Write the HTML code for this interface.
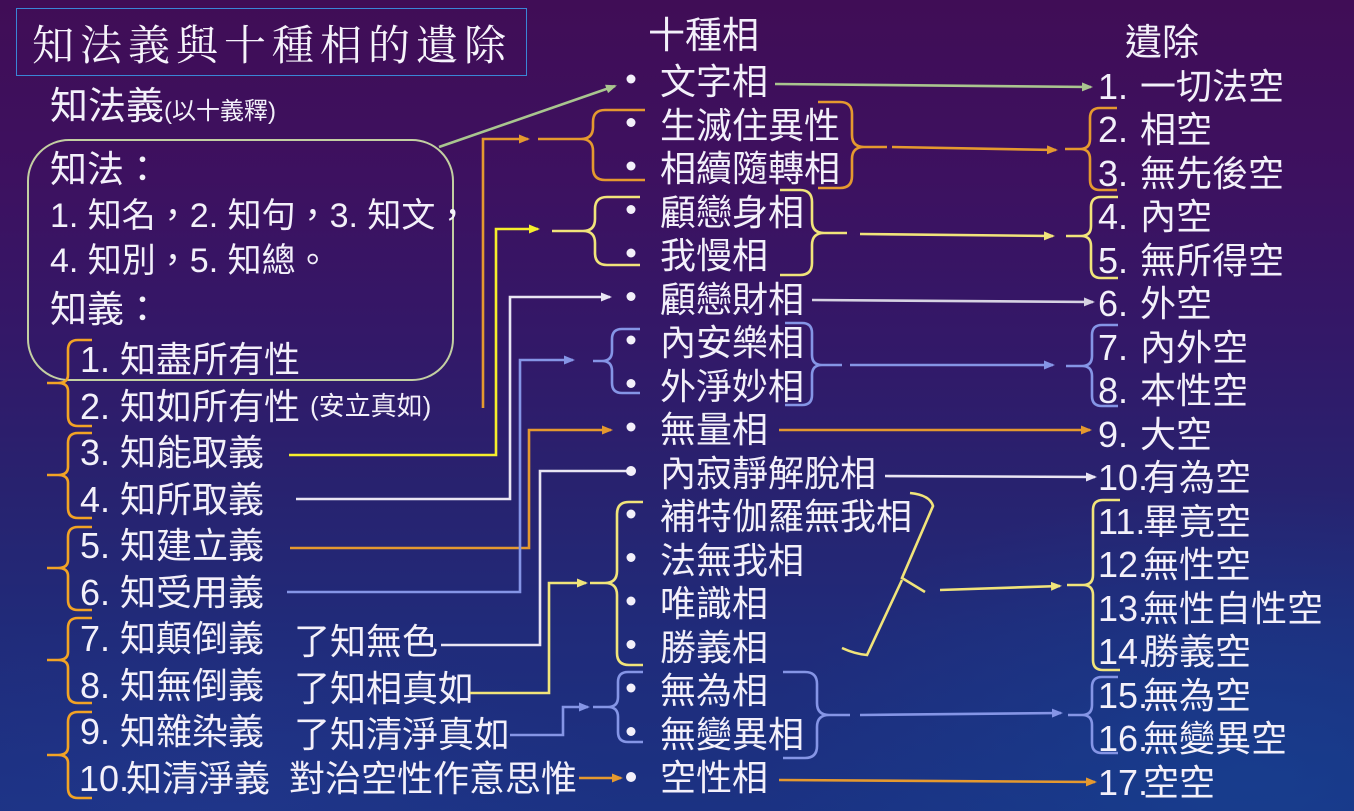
<!DOCTYPE html>
<html><head><meta charset="utf-8">
<style>
html,body{margin:0;padding:0;}
body{width:1354px;height:811px;overflow:hidden;}
#c{position:relative;width:1354px;height:811px;overflow:hidden;
 background:linear-gradient(180deg,#400d56 0%,#3d1160 22%,#331868 42%,#28226f 60%,#202b7a 78%,#1b3283 100%);}
#glow{position:absolute;left:0;top:0;width:1354px;height:811px;
 background:radial-gradient(ellipse 700px 420px at 1250px 780px,rgba(20,70,150,0.55),rgba(20,70,150,0) 70%),
 radial-gradient(ellipse 600px 300px at 200px 820px,rgba(40,60,150,0.35),rgba(40,60,150,0) 70%);}
.t{position:absolute;white-space:nowrap;line-height:1;color:#f3f0fa;
 font-family:"Liberation Sans","Noto Sans CJK TC","Noto Sans CJK SC",sans-serif;font-size:36px;}
#title{position:absolute;left:16px;top:8px;width:511px;height:68px;border:1.5px solid #3a86d6;box-sizing:border-box;}
#tt{position:absolute;left:32px;top:26px;font-family:"Liberation Serif","Noto Serif CJK SC",serif;font-size:42px;letter-spacing:6px;line-height:1;color:#f6f3fb;white-space:nowrap;}
#box{position:absolute;left:27px;top:139px;width:427px;height:242px;border:2.5px solid #c3cfa2;border-radius:42px;box-sizing:border-box;}
svg{position:absolute;left:0;top:0;}
</style></head><body><div id="c">
<div id="glow"></div>
<div id="title"></div>
<div id="tt">知法義與十種相的遺除</div>
<div id="box"></div>

<div class="t" style="left:50px;top:88px;font-size:38px;">知法義<span style="font-size:24px;">(以十義釋)</span></div>
<div class="t" style="left:50px;top:151px;font-size:37px;">知法：</div>
<div class="t" style="left:50px;top:199px;font-size:34px;">1. 知名，2. 知句，3. 知文，</div>
<div class="t" style="left:50px;top:244px;font-size:34px;">4. 知別，5. 知總。</div>
<div class="t" style="left:50px;top:291px;font-size:37px;">知義：</div>

<!-- left list -->
<div class="t" style="left:80px;top:342px;">1.</div><div class="t" style="left:120px;top:342px;">知盡所有性</div>
<div class="t" style="left:80px;top:388.5px;">2.</div><div class="t" style="left:120px;top:388.5px;">知如所有性</div>
<div class="t" style="left:310px;top:393px;font-size:26px;">(安立真如)</div>
<div class="t" style="left:80px;top:435px;">3.</div><div class="t" style="left:120px;top:435px;">知能取義</div>
<div class="t" style="left:80px;top:481.5px;">4.</div><div class="t" style="left:120px;top:481.5px;">知所取義</div>
<div class="t" style="left:80px;top:528px;">5.</div><div class="t" style="left:120px;top:528px;">知建立義</div>
<div class="t" style="left:80px;top:574.5px;">6.</div><div class="t" style="left:120px;top:574.5px;">知受用義</div>
<div class="t" style="left:80px;top:621px;">7.</div><div class="t" style="left:120px;top:621px;">知顛倒義</div>
<div class="t" style="left:294px;top:624px;">了知無色</div>
<div class="t" style="left:80px;top:667.5px;">8.</div><div class="t" style="left:120px;top:667.5px;">知無倒義</div>
<div class="t" style="left:294px;top:670.5px;">了知相真如</div>
<div class="t" style="left:80px;top:714px;">9.</div><div class="t" style="left:120px;top:714px;">知雜染義</div>
<div class="t" style="left:294px;top:717px;">了知清淨真如</div>
<div class="t" style="left:79px;top:760.5px;">10.</div><div class="t" style="left:126px;top:760.5px;">知清淨義</div>
<div class="t" style="left:289px;top:760.5px;">對治空性作意思惟</div>

<!-- middle -->
<div class="t" style="left:648px;top:17px;font-size:37px;">十種相</div>
<div class="t" style="left:660px;top:64px;">文字相</div>
<div class="t" style="left:660px;top:107.5px;">生滅住異性</div>
<div class="t" style="left:660px;top:151px;">相續隨轉相</div>
<div class="t" style="left:660px;top:194.5px;">顧戀身相</div>
<div class="t" style="left:660px;top:238px;">我慢相</div>
<div class="t" style="left:660px;top:281.5px;">顧戀財相</div>
<div class="t" style="left:660px;top:325px;">內安樂相</div>
<div class="t" style="left:660px;top:368.5px;">外淨妙相</div>
<div class="t" style="left:660px;top:412px;">無量相</div>
<div class="t" style="left:660px;top:455.5px;">內寂靜解脫相</div>
<div class="t" style="left:660px;top:499px;">補特伽羅無我相</div>
<div class="t" style="left:660px;top:542.5px;">法無我相</div>
<div class="t" style="left:660px;top:586px;">唯識相</div>
<div class="t" style="left:660px;top:629.5px;">勝義相</div>
<div class="t" style="left:660px;top:673px;">無為相</div>
<div class="t" style="left:660px;top:716.5px;">無變異相</div>
<div class="t" style="left:660px;top:760px;">空性相</div>

<!-- right -->
<div class="t" style="left:1125px;top:24px;font-size:37px;">遺除</div>
<div class="t" style="left:1098px;top:68.5px;">1.</div><div class="t" style="left:1140px;top:68.5px;">一切法空</div>
<div class="t" style="left:1098px;top:112px;">2.</div><div class="t" style="left:1140px;top:112px;">相空</div>
<div class="t" style="left:1098px;top:155.5px;">3.</div><div class="t" style="left:1140px;top:155.5px;">無先後空</div>
<div class="t" style="left:1098px;top:199px;">4.</div><div class="t" style="left:1140px;top:199px;">內空</div>
<div class="t" style="left:1098px;top:242.5px;">5.</div><div class="t" style="left:1140px;top:242.5px;">無所得空</div>
<div class="t" style="left:1098px;top:286px;">6.</div><div class="t" style="left:1140px;top:286px;">外空</div>
<div class="t" style="left:1098px;top:329.5px;">7.</div><div class="t" style="left:1140px;top:329.5px;">內外空</div>
<div class="t" style="left:1098px;top:373px;">8.</div><div class="t" style="left:1140px;top:373px;">本性空</div>
<div class="t" style="left:1098px;top:416.5px;">9.</div><div class="t" style="left:1140px;top:416.5px;">大空</div>
<div class="t" style="left:1098px;top:460px;">10.</div><div class="t" style="left:1143px;top:460px;">有為空</div>
<div class="t" style="left:1098px;top:503.5px;">11.</div><div class="t" style="left:1143px;top:503.5px;">畢竟空</div>
<div class="t" style="left:1098px;top:547px;">12.</div><div class="t" style="left:1143px;top:547px;">無性空</div>
<div class="t" style="left:1098px;top:590.5px;">13.</div><div class="t" style="left:1143px;top:590.5px;">無性自性空</div>
<div class="t" style="left:1098px;top:634px;">14.</div><div class="t" style="left:1143px;top:634px;">勝義空</div>
<div class="t" style="left:1098px;top:677.5px;">15.</div><div class="t" style="left:1143px;top:677.5px;">無為空</div>
<div class="t" style="left:1098px;top:721px;">16.</div><div class="t" style="left:1143px;top:721px;">無變異空</div>
<div class="t" style="left:1098px;top:764.5px;">17.</div><div class="t" style="left:1143px;top:764.5px;">空空</div>

<svg width="1354" height="811" viewBox="0 0 1354 811">
<defs>
<marker id="aO" markerUnits="userSpaceOnUse" markerWidth="11" markerHeight="9" refX="9" refY="4.5" orient="auto"><path d="M0,0 L11,4.5 L0,9 z" fill="#e5992f"/></marker>
<marker id="aY" markerUnits="userSpaceOnUse" markerWidth="11" markerHeight="9" refX="9" refY="4.5" orient="auto"><path d="M0,0 L11,4.5 L0,9 z" fill="#f6ee2c"/></marker>
<marker id="aP" markerUnits="userSpaceOnUse" markerWidth="11" markerHeight="9" refX="9" refY="4.5" orient="auto"><path d="M0,0 L11,4.5 L0,9 z" fill="#f1e47a"/></marker>
<marker id="aW" markerUnits="userSpaceOnUse" markerWidth="11" markerHeight="9" refX="9" refY="4.5" orient="auto"><path d="M0,0 L11,4.5 L0,9 z" fill="#e9e5f3"/></marker>
<marker id="aG" markerUnits="userSpaceOnUse" markerWidth="11" markerHeight="9" refX="9" refY="4.5" orient="auto"><path d="M0,0 L11,4.5 L0,9 z" fill="#d6d2e2"/></marker>
<marker id="aB" markerUnits="userSpaceOnUse" markerWidth="11" markerHeight="9" refX="9" refY="4.5" orient="auto"><path d="M0,0 L11,4.5 L0,9 z" fill="#8595e6"/></marker>
<marker id="aN" markerUnits="userSpaceOnUse" markerWidth="11" markerHeight="9" refX="9" refY="4.5" orient="auto"><path d="M0,0 L11,4.5 L0,9 z" fill="#a9c58f"/></marker>
</defs>
<g fill="none" stroke-width="2.6" stroke-linejoin="miter" stroke-linecap="butt">
<!-- green -->
<path d="M439,147 L615,86" stroke="#a9c58f" marker-end="url(#aN)"/>
<path d="M775,84 L1091,87" stroke="#a9c58f" marker-end="url(#aN)"/>
<!-- orange -->
<path d="M483,408 L483,139 L528,139" stroke="#e5992f" marker-end="url(#aO)"/>
<path d="M290,548 L529,548 L529,430 L611,430" stroke="#e5992f" marker-end="url(#aO)"/>
<path d="M892,147 L1056,150" stroke="#e5992f" marker-end="url(#aO)"/>
<path d="M779,430 L1090,430" stroke="#e5992f" marker-end="url(#aO)"/>
<path d="M579,778 L621,778" stroke="#e5992f" marker-end="url(#aO)"/>
<path d="M779,780 L1095,782" stroke="#e5992f" marker-end="url(#aO)"/>
<path d="M645,110 L605,110 Q593,110 593,122 L593,127 Q593,139 581,139 L538,139 M581,139 Q593,139 593,151 L593,168 Q593,180 605,180 L645,180" stroke="#e5992f"/>
<path d="M818,102 L840,102 Q852,102 852,114 L852,135 Q852,147 864,147 L887,147 M864,147 Q852,147 852,159 L852,176 Q852,188 840,188 L818,188" stroke="#e5992f"/>
<path d="M1117,108 L1100,108 Q1090,108 1090,118 L1090,139 Q1090,149 1080,149 L1065,149 M1080,149 Q1090,149 1090,159 L1090,180 Q1090,190 1100,190 L1117,190" stroke="#e5992f"/>
<!-- left braces -->
<g stroke="#f2a325">
<path d="M92,340 L78,340 Q68,340 68,350 L68,375 Q68,383 58,383 L47,383 M58,383 Q68,383 68,391 L68,416 Q68,426 78,426 L92,426"/>
<path d="M92,433 L78,433 Q68,433 68,443 L68,467 Q68,475 58,475 L47,475 M58,475 Q68,475 68,483 L68,508 Q68,518 78,518 L92,518"/>
<path d="M92,527 L78,527 Q68,527 68,537 L68,560 Q68,568 58,568 L47,568 M58,568 Q68,568 68,576 L68,600 Q68,610 78,610 L92,610"/>
<path d="M92,618 L78,618 Q68,618 68,628 L68,652 Q68,660 58,660 L47,660 M58,660 Q68,660 68,668 L68,693 Q68,703 78,703 L92,703"/>
<path d="M92,712 L78,712 Q68,712 68,722 L68,747 Q68,755 58,755 L47,755 M58,755 Q68,755 68,763 L68,788 Q68,798 78,798 L92,798"/>
</g>
<!-- yellow -->
<path d="M289,455 L496,455 L496,229 L538,229" stroke="#f6ee2c" marker-end="url(#aY)"/>
<path d="M860,234 L1053,236" stroke="#f1e47a" marker-end="url(#aP)"/>
<path d="M470,693 L549,693 L549,583 L586,583" stroke="#f1e47a" marker-end="url(#aP)"/>
<path d="M940,590 L1060,586" stroke="#f1e47a" marker-end="url(#aP)"/>
<path d="M640,197 L607,197 Q595,197 595,209 L595,219 Q595,231 583,231 L552,231 M583,231 Q595,231 595,243 L595,253 Q595,265 607,265 L640,265" stroke="#f1e47a"/>
<path d="M780,190 L800,190 Q812,190 812,202 L812,221 Q812,233 824,233 L847,233 M824,233 Q812,233 812,245 L812,263 Q812,275 800,275 L780,275" stroke="#f1e47a"/>
<path d="M1118,197 L1101,197 Q1091,197 1091,207 L1091,226 Q1091,236 1081,236 L1066,236 M1081,236 Q1091,236 1091,246 L1091,268 Q1091,278 1101,278 L1118,278" stroke="#f1e47a"/>
<path d="M643,502 L629,502 Q617,502 617,514 L617,571 Q617,583 605,583 L590,583 M605,583 Q617,583 617,595 L617,653 Q617,665 629,665 L643,665" stroke="#f1e47a"/>
<path d="M910,493 Q930,495 933,506 L902,578 L925,592 M902,580 L867,655 Q855,654 842,648" stroke="#f1e47a"/>
<path d="M1120,500 L1103,500 Q1093,500 1093,510 L1093,575 Q1093,585 1083,585 L1067,585 M1083,585 Q1093,585 1093,595 L1093,660 Q1093,670 1103,670 L1120,670" stroke="#f1e47a"/>
<!-- white -->
<path d="M296,499 L510,499 L510,297 L610,297" stroke="#e9e5f3" marker-end="url(#aW)"/>
<path d="M441,645 L540,645 L540,471 L628,471" stroke="#e9e5f3"/>
<path d="M885,476 L1095,477" stroke="#e9e5f3" marker-end="url(#aW)"/>
<path d="M812,300 L1093,302" stroke="#d6d2e2" marker-end="url(#aG)"/>
<!-- blue -->
<path d="M287,592 L520,592 L520,360 L573,360" stroke="#8595e6" marker-end="url(#aB)"/>
<path d="M850,365 L1053,365" stroke="#8595e6" marker-end="url(#aB)"/>
<path d="M510,735 L563,735 L563,707 L588,707" stroke="#8595e6" marker-end="url(#aB)"/>
<path d="M860,715 L1061,713" stroke="#8595e6" marker-end="url(#aB)"/>
<path d="M640,329 L622,329 Q612,329 612,339 L612,351 Q612,361 602,361 L593,361 M602,361 Q612,361 612,371 L612,383 Q612,393 622,393 L640,393" stroke="#8595e6"/>
<path d="M785,323 L802,323 Q812,323 812,333 L812,355 Q812,365 822,365 L842,365 M822,365 Q812,365 812,375 L812,395 Q812,405 802,405 L785,405" stroke="#8595e6"/>
<path d="M1118,325 L1102,325 Q1092,325 1092,335 L1092,356 Q1092,366 1082,366 L1066,366 M1082,366 Q1092,366 1092,376 L1092,396 Q1092,406 1102,406 L1118,406" stroke="#8595e6"/>
<path d="M643,672 L628,672 Q618,672 618,682 L618,697 Q618,707 608,707 L593,707 M608,707 Q618,707 618,717 L618,732 Q618,742 628,742 L643,742" stroke="#8595e6"/>
<path d="M783,672 L805,672 Q817,672 817,684 L817,703 Q817,715 829,715 L850,715 M829,715 Q817,715 817,727 L817,746 Q817,758 805,758 L783,758" stroke="#8595e6"/>
<path d="M1118,677 L1102,677 Q1092,677 1092,687 L1092,705 Q1092,715 1082,715 L1068,715 M1082,715 Q1092,715 1092,725 L1092,743 Q1092,753 1102,753 L1118,753" stroke="#8595e6"/>
</g>
<!-- bullets -->
<g fill="#f3f0fa">
<circle cx="631" cy="79" r="4.5"/><circle cx="631" cy="122.5" r="4.5"/><circle cx="631" cy="166" r="4.5"/>
<circle cx="631" cy="209.5" r="4.5"/><circle cx="631" cy="253" r="4.5"/><circle cx="631" cy="296.5" r="4.5"/>
<circle cx="631" cy="340" r="4.5"/><circle cx="631" cy="383.5" r="4.5"/><circle cx="631" cy="427" r="4.5"/>
<circle cx="631" cy="471" r="5"/><circle cx="631" cy="514" r="4.5"/><circle cx="631" cy="557.5" r="4.5"/>
<circle cx="631" cy="601" r="4.5"/><circle cx="631" cy="644.5" r="4.5"/><circle cx="631" cy="688" r="4.5"/>
<circle cx="631" cy="731.5" r="4.5"/><circle cx="631" cy="777" r="5"/>
</g>
</svg>
</div></body></html>
